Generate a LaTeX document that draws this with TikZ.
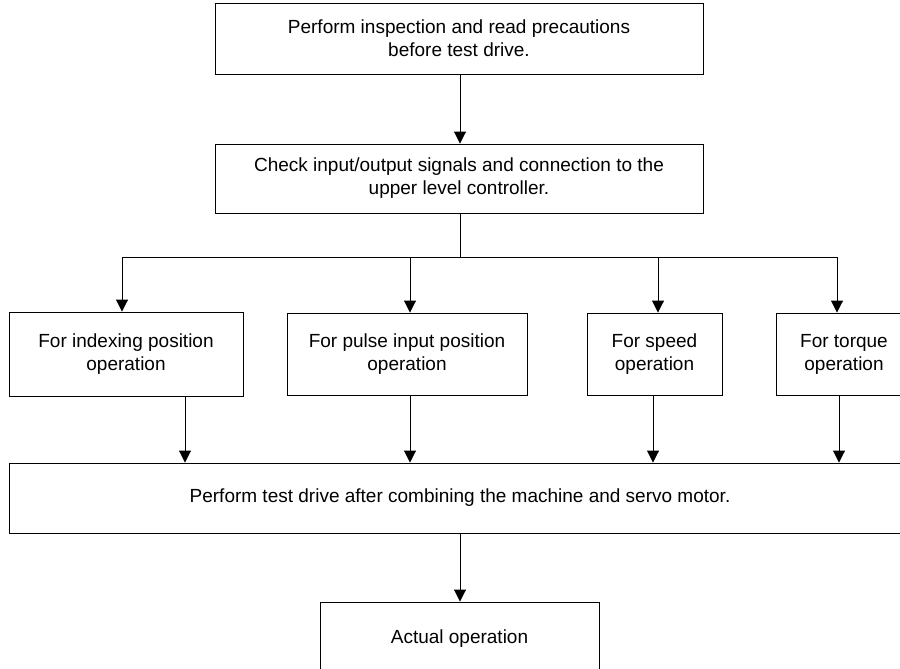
\documentclass[tikz,border=0pt]{standalone}
\usepackage{fontspec}
\setmainfont{Liberation Sans}
\usetikzlibrary{arrows.meta}
\tikzset{
  box/.style={draw=black, line width=0.9pt, align=center, inner sep=0pt,
    font=\fontsize{19}{23}\selectfont},
  arr/.style={line width=0.9pt, -{Triangle[width=12pt,length=12pt]}},
  ln/.style={line width=0.9pt}
}
\begin{document}
\begin{tikzpicture}[x=1pt,y=-1pt]
\useasboundingbox (0,0) rectangle (900,669);
\node[box, minimum width=488pt, minimum height=71pt] (top) at (459,38.5)
  {Perform inspection and read precautions\\before test drive.};
\node[box, minimum width=488pt, minimum height=69pt] (chk) at (459,178.5)
  {Check input/output signals and connection to the\\upper level controller.};
\node[box, minimum width=234pt, minimum height=84pt] (A) at (126,354)
  {For indexing position\\operation};
\node[box, minimum width=240pt, minimum height=82pt] (B) at (407,354)
  {For pulse input position\\operation};
\node[box, minimum width=135pt, minimum height=82pt] (C) at (654.5,354)
  {For speed\\operation};
\node[box, minimum width=136pt, minimum height=82pt] (D) at (844,354)
  {For torque\\operation};
\node[box, minimum width=902pt, minimum height=70pt] (E) at (460,498)
  {Perform test drive after combining the machine and servo motor.};
\node[box, minimum width=279pt, minimum height=74pt] (F) at (459.5,639)
  {Actual operation};
% branch coordinates
\coordinate (br) at (460,257);
\coordinate (ba) at (122,257);
\coordinate (bb) at (410,257);
\coordinate (bc) at (658,257);
\coordinate (bd) at (837,257);
\coordinate (xa) at (185,0);
\coordinate (xb) at (410,0);
\coordinate (xc) at (653,0);
\coordinate (xd) at (839,0);
\coordinate (xe) at (460,0);
\draw[arr] (top.south -| xe) -- (chk.north -| xe);
\draw[ln] (chk.south -| xe) -- (br);
\draw[ln] (ba) -- (bd);
\draw[arr] (ba) -- (ba |- A.north);
\draw[arr] (bb) -- (bb |- B.north);
\draw[arr] (bc) -- (bc |- C.north);
\draw[arr] (bd) -- (bd |- D.north);
\draw[arr] (A.south -| xa) -- (E.north -| xa);
\draw[arr] (B.south -| xb) -- (E.north -| xb);
\draw[arr] (C.south -| xc) -- (E.north -| xc);
\draw[arr] (D.south -| xd) -- (E.north -| xd);
\draw[arr] (E.south -| xe) -- (F.north -| xe);
\end{tikzpicture}
\end{document}
